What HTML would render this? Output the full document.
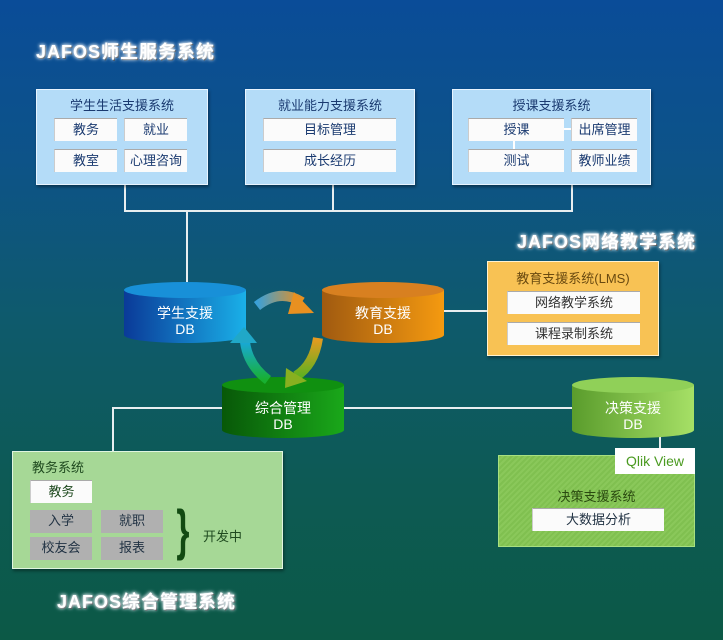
<!DOCTYPE html>
<html><head><meta charset="utf-8"><style>
*{margin:0;padding:0;box-sizing:border-box}
body{width:723px;height:640px;position:relative;overflow:hidden;font-family:"Liberation Sans","Noto Sans CJK SC",sans-serif;background:linear-gradient(180deg,#0a4c98 0%,#0d5388 25%,#0e5a6c 50%,#0d5a55 75%,#0c5946 100%)}
.a{position:absolute}
.box{position:absolute;background:#b4dcf8;border:1px solid #e8f4ff;box-shadow:1px 2px 3px rgba(0,0,0,.4)}
.it{position:absolute;background:#fbfbfb;border-top:1px solid #aaa;border-left:1px solid #ccc;font-size:13px;color:#1a3a70;text-align:center;line-height:21px;height:23px}
.ttl{position:absolute;font-size:13px;color:#1a3a70;text-align:center}
.big{position:absolute;color:#fff;font-weight:bold;font-size:18px;letter-spacing:1px;text-shadow:0 0 3px #fff,0 0 5px #cde,1px 1px 0 #222;font-family:"Liberation Sans","Noto Sans CJK SC",sans-serif}
.ln{position:absolute;background:#e8eef0}
.g{background:#b0b0b0;color:#234;border:none}
.gt{color:#1f4a1f}
</style></head><body>
<div class="big" style="left:36px;top:38px">JAFOS师生服务系统</div>
<div class="big" style="left:517px;top:228px">JAFOS网络教学系统</div>
<div class="big" style="left:57px;top:588px">JAFOS综合管理系统</div>

<div class="ln" style="left:124px;top:184px;width:2px;height:28px"></div>
<div class="ln" style="left:332px;top:184px;width:2px;height:28px"></div>
<div class="ln" style="left:571px;top:184px;width:2px;height:28px"></div>
<div class="ln" style="left:124px;top:210px;width:449px;height:2px"></div>
<div class="ln" style="left:186px;top:210px;width:2px;height:74px"></div>
<div class="ln" style="left:444px;top:310px;width:44px;height:2px"></div>
<div class="ln" style="left:112px;top:407px;width:112px;height:2px"></div>
<div class="ln" style="left:112px;top:407px;width:2px;height:45px"></div>
<div class="ln" style="left:344px;top:407px;width:230px;height:2px"></div>
<div class="ln" style="left:659px;top:435px;width:2px;height:14px"></div>

<div class="box" style="left:36px;top:89px;width:172px;height:96px"></div>
<div class="ttl" style="left:36px;top:95px;width:172px">学生生活支援系统</div>
<div class="it" style="left:54px;top:118px;width:63px">教务</div>
<div class="it" style="left:124px;top:118px;width:63px">就业</div>
<div class="it" style="left:54px;top:149px;width:63px">教室</div>
<div class="it" style="left:124px;top:149px;width:63px">心理咨询</div>
<div class="box" style="left:245px;top:89px;width:170px;height:96px"></div>
<div class="ttl" style="left:245px;top:95px;width:170px">就业能力支援系统</div>
<div class="it" style="left:263px;top:118px;width:133px">目标管理</div>
<div class="it" style="left:263px;top:149px;width:133px">成长经历</div>
<div class="box" style="left:452px;top:89px;width:199px;height:96px"></div>
<div class="ttl" style="left:452px;top:95px;width:199px">授课支援系统</div>
<div class="ln" style="left:540px;top:128px;width:35px;height:2px;background:#fff"></div>
<div class="ln" style="left:513px;top:135px;width:2px;height:20px;background:#fff"></div>
<div class="it" style="left:468px;top:118px;width:96px">授课</div>
<div class="it" style="left:571px;top:118px;width:66px">出席管理</div>
<div class="it" style="left:468px;top:149px;width:96px">测试</div>
<div class="it" style="left:571px;top:149px;width:66px">教师业绩</div>

<div class="a" style="left:487px;top:261px;width:172px;height:95px;background:#f8c254;border:1px solid #fff2d0;box-shadow:1px 2px 3px rgba(0,0,0,.4)"></div>
<div class="ttl" style="left:487px;top:268px;width:172px;color:#6a4a10">教育支援系统(LMS)</div>
<div class="it" style="left:507px;top:291px;width:133px;color:#333">网络教学系统</div>
<div class="it" style="left:507px;top:322px;width:133px;color:#333">课程录制系统</div>

<svg class="a" style="left:0;top:0" width="723" height="640">
<defs>
<linearGradient id="cb" x1="0" x2="1"><stop offset="0" stop-color="#0a3a98"/><stop offset="1" stop-color="#1ab0e8"/></linearGradient>
<linearGradient id="co" x1="0" x2="1"><stop offset="0" stop-color="#a05a10"/><stop offset="1" stop-color="#f59a10"/></linearGradient>
<linearGradient id="cg" x1="0" x2="1"><stop offset="0" stop-color="#085808"/><stop offset="1" stop-color="#1aa81a"/></linearGradient>
<linearGradient id="cl" x1="0" x2="1"><stop offset="0" stop-color="#5a9c2c"/><stop offset="1" stop-color="#a6e066"/></linearGradient>
<linearGradient id="a1" x1="0" x2="1"><stop offset="0" stop-color="#3aa0d8"/><stop offset="1" stop-color="#e89020"/></linearGradient>
<linearGradient id="a2" x1="0" y1="0" x2="0" y2="1"><stop offset="0" stop-color="#e89a20"/><stop offset="1" stop-color="#60b020"/></linearGradient>
<linearGradient id="a3" x1="0" y1="1" x2="0" y2="0"><stop offset="0" stop-color="#18b030"/><stop offset="1" stop-color="#18a8d8"/></linearGradient>
</defs>
<path d="M124 290 v45 a61 8 0 0 0 122 0 v-45 z" fill="url(#cb)"/>
<ellipse cx="185" cy="290" rx="61" ry="8" fill="#1890d8"/>
<path d="M322 290 v45 a61 8 0 0 0 122 0 v-45 z" fill="url(#co)"/>
<ellipse cx="383" cy="290" rx="61" ry="8" fill="#d88020"/>
<path d="M222 385 v45 a61 8 0 0 0 122 0 v-45 z" fill="url(#cg)"/>
<ellipse cx="283" cy="385" rx="61" ry="8" fill="#109010"/>
<path d="M572 385 v45 a61 8 0 0 0 122 0 v-45 z" fill="url(#cl)"/>
<ellipse cx="633" cy="385" rx="61" ry="8" fill="#90d058"/>
<g fill="none" stroke-width="10">
<path d="M257 306 Q280 288 302 302" stroke="url(#a1)"/>
<path d="M318 338 Q314 365 296 376" stroke="url(#a2)"/>
<path d="M268 380 Q248 365 245 342" stroke="url(#a3)"/>
</g>
<polygon points="294,292 314,313 288,314" fill="#e89020"/>
<polygon points="286,368 307,381 285,388" fill="#88b020"/>
<polygon points="230,343 244,327 257,343" fill="#20a8c8"/>
<g fill="#fff" font-size="14" text-anchor="middle" font-family="Liberation Sans,Noto Sans CJK SC,sans-serif">
<text x="185" y="318">学生支援</text><text x="185" y="334">DB</text>
<text x="383" y="318">教育支援</text><text x="383" y="334">DB</text>
<text x="283" y="413">综合管理</text><text x="283" y="429">DB</text>
<text x="633" y="413">决策支援</text><text x="633" y="429">DB</text>
</g>
</svg>

<div class="a" style="left:12px;top:451px;width:271px;height:118px;background:#a6d896;border:1px solid #e0f5e0;box-shadow:1px 2px 3px rgba(0,0,0,.4)"></div>
<div class="a gt" style="left:32px;top:457px;font-size:13px">教务系统</div>
<div class="it gt" style="left:30px;top:480px;width:62px">教务</div>
<div class="it g" style="left:30px;top:510px;width:62px">入学</div>
<div class="it g" style="left:101px;top:510px;width:62px">就职</div>
<div class="it g" style="left:30px;top:537px;width:62px">校友会</div>
<div class="it g" style="left:101px;top:537px;width:62px">报表</div>
<div class="a" style="left:172px;top:500px;font-size:56px;line-height:60px;color:#124a12;font-weight:bold;transform:scaleX(0.6)">}</div>
<div class="a gt" style="left:203px;top:526px;font-size:13px">开发中</div>

<div class="a" style="left:498px;top:455px;width:197px;height:92px;background:repeating-linear-gradient(135deg,#80c050 0 2px,#8ac85a 2px 4px);border:1px solid #a8e080"></div>
<div class="a" style="left:615px;top:448px;width:80px;height:26px;background:#fff;color:#4a9a20;font-size:14px;text-align:center;line-height:26px">Qlik View</div>
<div class="a" style="left:498px;top:486px;width:197px;text-align:center;font-size:13px;color:#2a4a10">决策支援系统</div>
<div class="it" style="left:532px;top:508px;width:132px;color:#234">大数据分析</div>
</body></html>
